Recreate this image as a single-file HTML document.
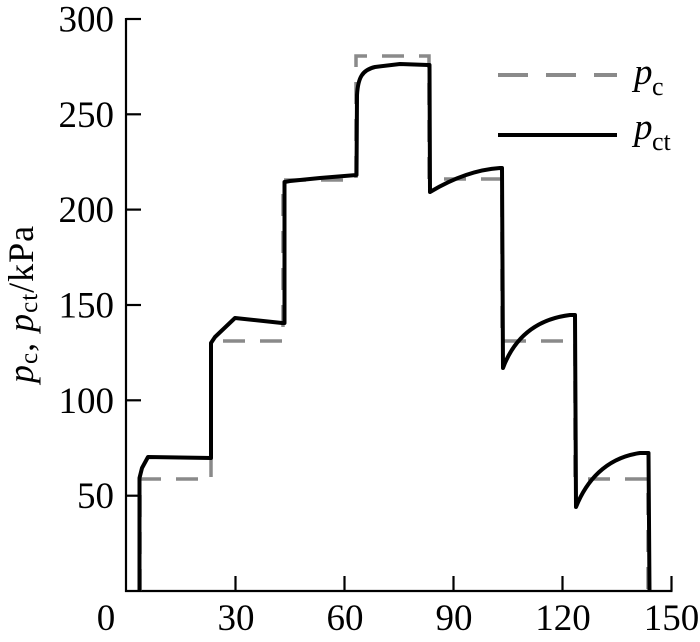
<!DOCTYPE html>
<html>
<head>
<meta charset="utf-8">
<style>
  html, body { margin: 0; padding: 0; background: #ffffff; }
  svg { display: block; }
  text { font-family: "Liberation Serif", "Times New Roman", serif; fill: #000; }
</style>
</head>
<body>
<svg width="700" height="642" viewBox="0 0 700 642" xmlns="http://www.w3.org/2000/svg">
  <rect x="0" y="0" width="700" height="642" fill="#ffffff"/>

  <!-- axes -->
  <g stroke="#000" stroke-width="2.2" fill="none">
    <line x1="126" y1="18" x2="126" y2="592"/>
    <line x1="125" y1="591" x2="672.5" y2="591"/>
    <!-- y ticks -->
    <line x1="126" y1="19" x2="141" y2="19"/>
    <line x1="126" y1="114.3" x2="141" y2="114.3"/>
    <line x1="126" y1="209.6" x2="141" y2="209.6"/>
    <line x1="126" y1="305" x2="141" y2="305"/>
    <line x1="126" y1="400.3" x2="141" y2="400.3"/>
    <line x1="126" y1="495.7" x2="141" y2="495.7"/>
    <!-- x ticks -->
    <line x1="235.5" y1="591" x2="235.5" y2="576"/>
    <line x1="344.5" y1="591" x2="344.5" y2="576"/>
    <line x1="453.5" y1="591" x2="453.5" y2="576"/>
    <line x1="562.5" y1="591" x2="562.5" y2="576"/>
    <line x1="671.5" y1="591" x2="671.5" y2="576"/>
  </g>

  <!-- y tick labels -->
  <g font-size="37" text-anchor="end">
    <text x="114" y="31.5">300</text>
    <text x="114" y="126.8">250</text>
    <text x="114" y="222.1">200</text>
    <text x="114" y="317.5">150</text>
    <text x="114" y="412.8">100</text>
    <text x="114" y="508.2">50</text>
  </g>

  <!-- x tick labels -->
  <g font-size="37" text-anchor="middle">
    <text x="106" y="630">0</text>
    <text x="236" y="630">30</text>
    <text x="345" y="630">60</text>
    <text x="454" y="630">90</text>
    <text x="563" y="630">120</text>
    <text x="671.5" y="630">150</text>
  </g>

  <!-- y axis title -->
  <g transform="translate(33,383) rotate(-90)">
    <text x="0" y="0" font-size="36" letter-spacing="1"><tspan font-style="italic">p</tspan><tspan font-size="25" dy="4">c</tspan><tspan dy="-4">, </tspan><tspan font-style="italic">p</tspan><tspan font-size="25" dy="4">ct</tspan><tspan dy="-4">/kPa</tspan></text>
  </g>

  <!-- p_c dashed series -->
  <path d="M140,591 L140,479 L211,479 L211,341 L283,341 L283,180 L356,180 L356,56 L429,56 L429,179 L502,179 L502,341 L575,341 L575,479 L648,479 L648,591"
        fill="none" stroke="#8a8a8a" stroke-width="3.5" stroke-dasharray="22 15"/>

  <!-- p_ct solid series -->
  <path d="M139.5,591 L139.5,478 L142,468 L148,457 L211,458 L211,343 L215,337 L235,318 L282,323 L284.5,323 L284.5,182 L290,181 L320,178 L356.5,175 L357,95 C358,78 362,70 375,67 L400,64 L428,65 L429.5,65 L430,192 C445,183 470,170 500,168 L502,168 L503,368 C512,344 530,320 570,315 L575,315 L576,507 C586,482 605,458 640,453 L648.5,453 L649.5,591"
        fill="none" stroke="#000" stroke-width="4" stroke-linejoin="round"/>

  <!-- legend -->
  <line x1="498" y1="75" x2="617" y2="75" stroke="#8a8a8a" stroke-width="4" stroke-dasharray="30 18"/>
  <line x1="498" y1="135" x2="617" y2="135" stroke="#000" stroke-width="4"/>
  <text x="634" y="84" font-size="37" font-style="italic">p</text>
  <text x="652" y="95" font-size="26">c</text>
  <text x="634" y="139" font-size="37" font-style="italic">p</text>
  <text x="652" y="150" font-size="26">ct</text>
</svg>
</body>
</html>
